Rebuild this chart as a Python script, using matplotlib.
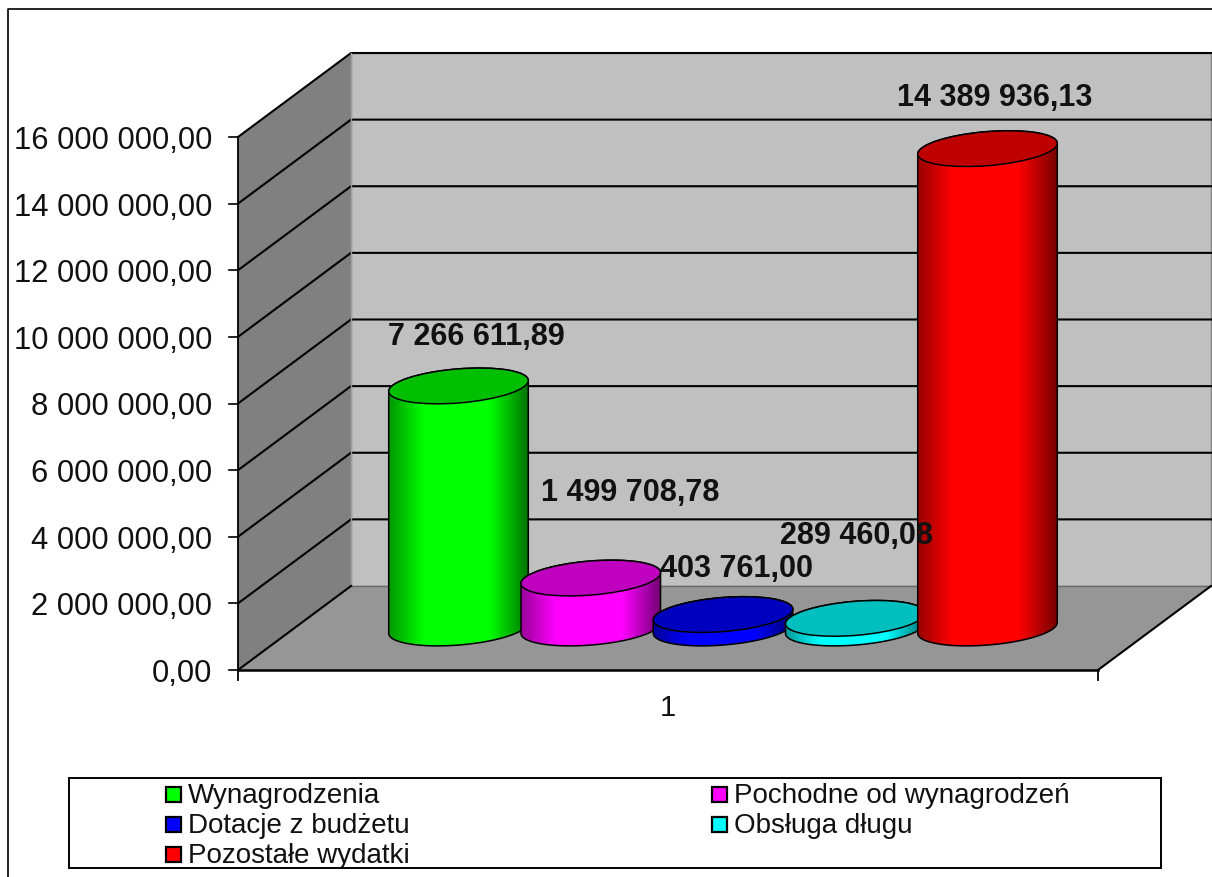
import numpy as np
import matplotlib
matplotlib.use('Agg')
import matplotlib.pyplot as plt
import matplotlib.patches as patches

plt.rcParams['font.family'] = ['Liberation Sans', 'DejaVu Sans']

# dane
categories = ['Wynagrodzenia', 'Pochodne od wynagrodzeń', 'Dotacje z budżetu', 'Obsługa długu', 'Pozostałe wydatki']
values = [7266611.89, 1499708.78, 403761.00, 289460.08, 14389936.13]
colors = ['#00ff00', '#ff00ff', '#0000ff', '#00ffff', '#ff0000']
y_ticks = [0, 2000000, 4000000, 6000000, 8000000, 10000000, 12000000, 14000000, 16000000]
x_tick_label = '1'

# uklad w pikselach
Y_MAX = 16000000
X0, X1 = 238, 1098
Y0, Y1 = 671, 138
DX, DY = 113, -84
CYL_CENTER, CYL_STEP = 723, 132.25
CYL_BASE = 629
A, B, TILT = 70, 17, np.radians(-4.7)
label_pos = [(476, 337), (630, 493), (737, 569), (857, 536), (995, 98)]


def ypx(v):
    return Y0 - v / Y_MAX * (Y0 - Y1)


def ellipse_pts(cx, cy, t):
    x = cx + A * np.cos(t) * np.cos(TILT) - B * np.sin(t) * np.sin(TILT)
    y = cy + A * np.cos(t) * np.sin(TILT) + B * np.sin(t) * np.cos(TILT)
    return x, y


def fmt(v):
    return f'{v:,.2f}'.replace(',', ' ').replace('.', ',')


def draw_cylinder(ax, cx, value, color, z):
    rgb = np.array(matplotlib.colors.to_rgb(color))
    top = CYL_BASE - (Y0 - ypx(value))
    # styczne pionowe elipsy
    t_right = np.arctan2(-B * np.sin(TILT), A * np.cos(TILT))
    t_low = np.linspace(t_right, t_right + np.pi, 80)
    bx, by = ellipse_pts(cx, CYL_BASE, t_low)
    tx, ty = ellipse_pts(cx, top, t_low + np.pi)
    body = np.column_stack([np.r_[bx, tx], np.r_[by, ty]])

    # cieniowanie walca, prawa strona ciemniejsza
    pos = np.linspace(0, 1, 200)
    left = 0.6 + 0.4 * np.clip(pos / 0.25, 0, 1)
    right = 0.45 + 0.55 * np.clip((1 - pos) / 0.28, 0, 1)
    shade = np.minimum(left, right)
    grad = (rgb[None, None, :] * shade[None, :, None])
    patch = patches.Polygon(body, closed=True, fc='none', ec='black', lw=1.1, zorder=z + 0.2)
    ax.add_patch(patch)
    im = ax.imshow(grad, extent=(cx - A, cx + A, CYL_BASE + 30, top - 30), aspect='auto',
                   interpolation='bilinear', zorder=z)
    im.set_clip_path(patch)

    # gorna pokrywa
    ax.add_patch(patches.Ellipse((cx, top), 2 * A, 2 * B, angle=np.degrees(TILT), fc=rgb * 0.75,
                                 ec='black', lw=1.1, zorder=z + 0.3))


fig = plt.figure(figsize=(12.12, 8.78), dpi=100)
ax = fig.add_axes([0, 0, 1, 1])
ax.axis('off')

# ramka wykresu
ax.plot([8, 8, 1212], [878, 10, 10], color='black', lw=1.2, zorder=1)

# sciany
ax.add_patch(patches.Polygon([(X0 + DX, Y1 + DY), (X1 + DX, Y1 + DY), (X1 + DX, Y0 + DY), (X0 + DX, Y0 + DY)],
                             fc='#c0c0c0', ec='#808080', lw=1, zorder=2))
ax.add_patch(patches.Polygon([(X0, Y1), (X0 + DX, Y1 + DY), (X0 + DX, Y0 + DY), (X0, Y0)],
                             fc='#808080', ec='none', zorder=2))
ax.add_patch(patches.Polygon([(X0, Y0), (X0 + DX, Y0 + DY), (X1 + DX, Y0 + DY), (X1, Y0)],
                             fc='#969696', ec='none', zorder=2))

# linie siatki
for v in y_ticks[1:]:
    y = ypx(v)
    ax.plot([X0, X0 + DX, X1 + DX], [y, y + DY, y + DY], color='black', lw=1.5, zorder=3,
            solid_joinstyle='miter')
ax.plot([X0 + DX, X0 + DX], [Y1 + DY, Y0 + DY], color='#a0a0a0', lw=1, zorder=3)
ax.plot([X0 + DX, X1 + DX], [Y0 + DY, Y0 + DY], color='#6a6a6a', lw=1, zorder=3)
ax.plot([X0, X0 + DX], [Y0, Y0 + DY], color='black', lw=1.5, zorder=3)
ax.plot([X1, X1 + DX], [Y0, Y0 + DY], color='black', lw=1.5, zorder=3)

# osie
ax.plot([X0, X0], [Y1, Y0 + 10], color='black', lw=1.3, zorder=4)
ax.plot([X0, X1], [Y0, Y0], color='black', lw=1.8, zorder=4)
ax.plot([X1, X1], [Y0, Y0 + 10], color='black', lw=1.3, zorder=4)
for v in y_ticks:
    y = ypx(v)
    ax.plot([X0 - 9, X0], [y, y], color='black', lw=1.2, zorder=4)
    ax.text(212, y + 3, fmt(v), fontsize=22.3, ha='right', va='center', color='#111111')
ax.text(668, 708, x_tick_label, fontsize=21, ha='center', va='center', color='#111111')

# walce
for i, (value, color) in enumerate(zip(values, colors)):
    draw_cylinder(ax, CYL_CENTER + (i - 2) * CYL_STEP, value, color, 5 + i)

# etykiety danych
for value, (x, y) in zip(values, label_pos):
    ax.text(x, y, fmt(value), fontsize=22, fontweight='bold', ha='center', va='center',
            color='#111111', zorder=12)

# legenda
ax.add_patch(patches.Rectangle((69, 779), 1092, 90, fc='white', ec='black', lw=1.4, zorder=2))
legend_xy = [(166, 795), (712, 795), (166, 825), (712, 825), (166, 855)]
for name, color, (x, y) in zip(categories, colors, legend_xy):
    ax.add_patch(patches.Rectangle((x, y - 7), 15, 15, fc=color, ec='black', lw=1.6, zorder=3))
    ax.text(x + 22, y + 1, name, fontsize=20, ha='left', va='center', color='#111111', zorder=3)

ax.set_xlim(0, 1212)
ax.set_ylim(878, 0)
fig.savefig('out.png', dpi=100, facecolor='white')
